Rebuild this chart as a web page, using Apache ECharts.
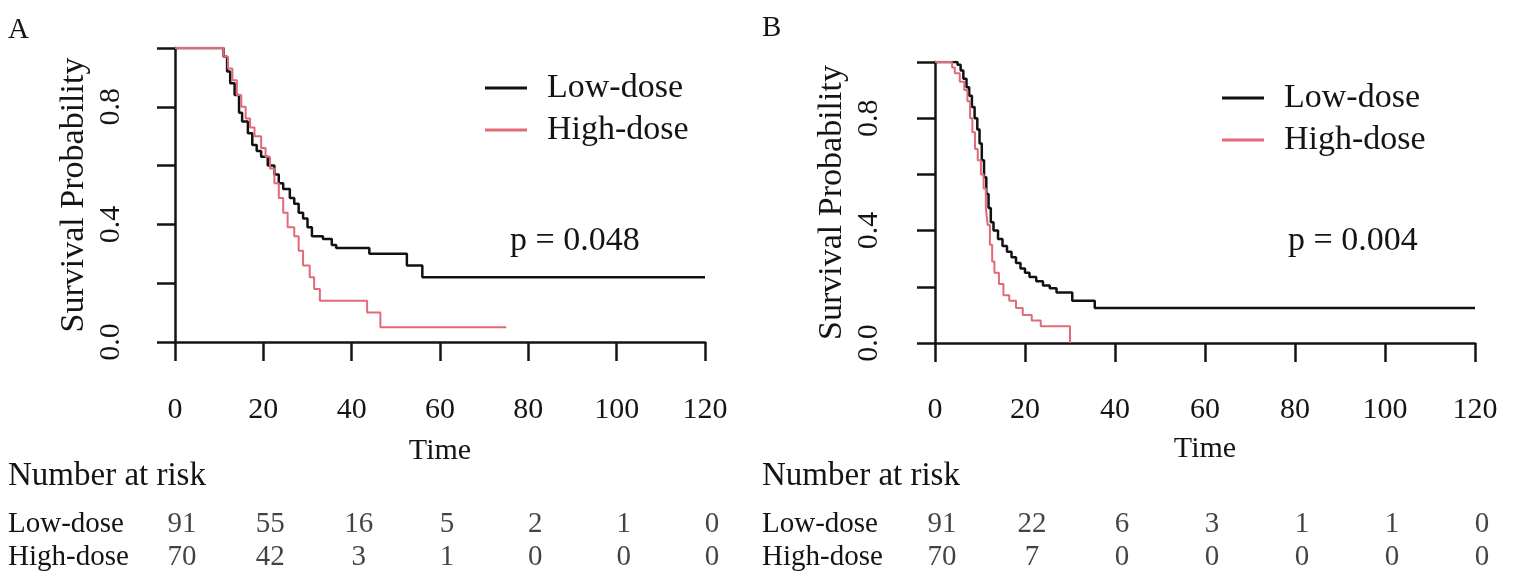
<!DOCTYPE html>
<html>
<head>
<meta charset="utf-8">
<script src="https://cdn.jsdelivr.net/npm/echarts@6/dist/echarts.min.js"></script>
<style>
  html, body { margin: 0; padding: 0; background: #fff; }
  #chart { width: 1514px; height: 587px; }
</style>
</head>
<body>
<div id="chart"></div>
<script>
// Kaplan-Meier curves, [time, survival]
const lowA = [
  [0, 1.0], [11.0, 0.97], [11.8, 0.92], [12.5, 0.88], [13.5, 0.84], [14.5, 0.78],
  [15.2, 0.75], [16.5, 0.71], [17.5, 0.67], [18.5, 0.65], [19.5, 0.63], [21, 0.6],
  [22.5, 0.57], [23.5, 0.54], [24.5, 0.52], [26, 0.49], [27, 0.47], [28, 0.44],
  [29, 0.42], [30, 0.39], [31, 0.36], [33.5, 0.35], [35.5, 0.33], [36.5, 0.32],
  [44, 0.3], [52.5, 0.26], [56, 0.22], [120, 0.22]
];
const highA = [
  [0, 1.0], [11.0, 0.97], [12, 0.93], [13, 0.89], [14, 0.84], [15, 0.8],
  [16, 0.76], [17, 0.73], [18, 0.7], [19.5, 0.66], [20.5, 0.63], [21.5, 0.59],
  [22.5, 0.54], [23.5, 0.49], [24.5, 0.44], [25.5, 0.39], [27, 0.36], [28, 0.31],
  [29, 0.26], [30.5, 0.22], [31.5, 0.18], [32.8, 0.14], [43.5, 0.1], [46.5, 0.05],
  [75, 0.05]
];
const lowB = [
  [0, 1.0], [5.0, 0.99], [5.7, 0.97], [6.3, 0.94], [7.0, 0.91], [7.6, 0.88],
  [8.2, 0.84], [8.8, 0.8], [9.4, 0.76], [9.9, 0.71], [10.4, 0.65], [10.9, 0.59],
  [11.4, 0.53], [11.9, 0.48], [12.4, 0.43], [13.0, 0.4], [14.0, 0.37], [15.0, 0.345],
  [16.0, 0.325], [17.0, 0.305], [18.0, 0.285], [19.0, 0.265], [20.0, 0.25], [21.0, 0.235],
  [22.5, 0.22], [24.0, 0.205], [25.5, 0.195], [27.0, 0.18], [30.5, 0.15], [35.5, 0.125],
  [120, 0.125]
];
const highB = [
  [0, 1.0], [3.8, 0.98], [4.4, 0.96], [5.5, 0.93], [6.5, 0.9], [7.2, 0.86],
  [7.8, 0.8], [8.3, 0.75], [8.9, 0.69], [9.5, 0.65], [10.2, 0.6], [10.8, 0.55],
  [11.3, 0.48], [11.7, 0.42], [12.2, 0.35], [12.7, 0.29], [13.2, 0.25], [14.2, 0.21],
  [15.2, 0.17], [16.5, 0.15], [18.0, 0.125], [19.5, 0.1], [21.5, 0.08], [23.5, 0.06],
  [30, 0.0]
];

// number at risk table
const groups = ['Low-dose', 'High-dose'];
const riskTimes = [0, 20, 40, 60, 80, 100, 120];
const riskLowA = [91, 55, 16, 5, 2, 1, 0];
const riskHighA = [70, 42, 3, 1, 0, 0, 0];
const riskLowB = [91, 22, 6, 3, 1, 1, 0];
const riskHighB = [70, 7, 0, 0, 0, 0, 0];

const pA = 'p = 0.048';
const pB = 'p = 0.004';

const serif = 'Liberation Serif';
const ink = '#141414';
const black = '#111111';
const red = '#e06a76';

const myChart = echarts.init(document.getElementById('chart'));

function timeAxis(grid, offset, margin, gap) {
  return {
    type: 'value',
    gridIndex: grid,
    min: 0,
    max: 120,
    interval: 20,
    offset: offset,
    name: 'Time',
    nameLocation: 'middle',
    nameGap: gap,
    nameTextStyle: { fontFamily: serif, fontSize: 30, color: ink },
    axisLine: { show: true, lineStyle: { color: ink, width: 2.5 } },
    axisTick: { show: true, length: 19, lineStyle: { color: ink, width: 2.5 } },
    axisLabel: { fontFamily: serif, fontSize: 30, color: ink, margin: margin },
    splitLine: { show: false },
  };
}

function probAxis(grid, offset) {
  return {
    type: 'value',
    gridIndex: grid,
    min: 0,
    max: 1,
    interval: 0.2,
    offset: offset,
    name: 'Survival Probability',
    nameLocation: 'middle',
    nameRotate: 90,
    nameGap: 64,
    nameTextStyle: { fontFamily: serif, fontSize: 34, color: ink },
    axisLine: { show: true, lineStyle: { color: ink, width: 2.5 } },
    axisTick: { show: true, length: 18, lineStyle: { color: ink, width: 2.5 } },
    axisLabel: {
      fontFamily: serif,
      fontSize: 30,
      color: ink,
      rotate: 90,
      margin: 29,
      // R drops the overlapping labels: only 0.0, 0.4, 0.8 are shown
      formatter: function (v) {
        const k = Math.round(v * 10);
        return k % 4 === 0 && k < 10 ? v.toFixed(1) : '';
      },
    },
    splitLine: { show: false },
  };
}

function tableAxisX(grid) {
  return { type: 'value', gridIndex: grid, min: 0, max: 120, show: false };
}

function tableAxisY(grid, margin) {
  return {
    type: 'category',
    gridIndex: grid,
    data: groups,
    inverse: true,
    axisLine: { show: false },
    axisTick: { show: false },
    axisLabel: {
      interval: 0,
      fontFamily: serif,
      fontSize: 29,
      color: ink,
      align: 'left',
      margin: margin,
    },
  };
}

function kmLine(name, data, x, color, width) {
  return {
    name: name,
    type: 'line',
    xAxisIndex: x,
    yAxisIndex: x,
    step: 'end',
    symbol: 'none',
    data: data,
    color: color,
    lineStyle: { color: color, width: width },
  };
}

function riskRow(grid, group, counts) {
  return {
    type: 'scatter',
    xAxisIndex: grid,
    yAxisIndex: grid,
    symbolSize: 1,
    itemStyle: { color: 'transparent' },
    data: riskTimes.map((t, i) => [t, group, counts[i]]),
    label: {
      show: true,
      position: 'inside',
      offset: [7, 0],
      fontFamily: serif,
      fontSize: 29,
      color: ink,
      formatter: p => String(p.value[2]),
    },
  };
}

function legendAt(left, top) {
  return {
    data: groups,
    left: left,
    top: top,
    orient: 'vertical',
    icon: 'rect',
    itemWidth: 42,
    itemHeight: 3,
    itemGap: 8,
    selectedMode: false,
    textStyle: { fontFamily: serif, fontSize: 34, color: ink, padding: [0, 0, 0, 15] },
  };
}

function label(text, x, y, size) {
  return {
    type: 'text',
    left: x,
    top: y,
    style: { text: text, fontFamily: serif, fontSize: size, fill: ink },
  };
}

let option = {
  animation: false,
  backgroundColor: '#ffffff',
  grid: [
    { left: 175, top: 48, width: 530, height: 294 },
    { left: 935, top: 62, width: 540, height: 281 },
    { left: 175, top: 508, width: 530, height: 66 },
    { left: 935, top: 508, width: 540, height: 66 },
  ],
  xAxis: [timeAxis(0, 11, 42, 83), timeAxis(1, 15, 37, 76), tableAxisX(2), tableAxisX(3)],
  yAxis: [probAxis(0, 20), probAxis(1, 22), tableAxisY(2, 167), tableAxisY(3, 173)],
  legend: [legendAt(480, 66), legendAt(1217, 76)],
  graphic: [
    label('A', 8, 16, 29),
    label('B', 762, 14, 29),
    label('Number at risk', 8, 460, 33),
    label('Number at risk', 762, 460, 33),
    label(pA, 510, 224, 34),
    label(pB, 1288, 224, 34),
  ],
  series: [
    kmLine('Low-dose', lowA, 0, black, 2.5),
    kmLine('High-dose', highA, 0, red, 2),
    kmLine('Low-dose', lowB, 1, black, 2.5),
    kmLine('High-dose', highB, 1, red, 2),
    riskRow(2, 'Low-dose', riskLowA),
    riskRow(2, 'High-dose', riskHighA),
    riskRow(3, 'Low-dose', riskLowB),
    riskRow(3, 'High-dose', riskHighB),
  ],
};

myChart.setOption(option);
</script>
</body>
</html>
